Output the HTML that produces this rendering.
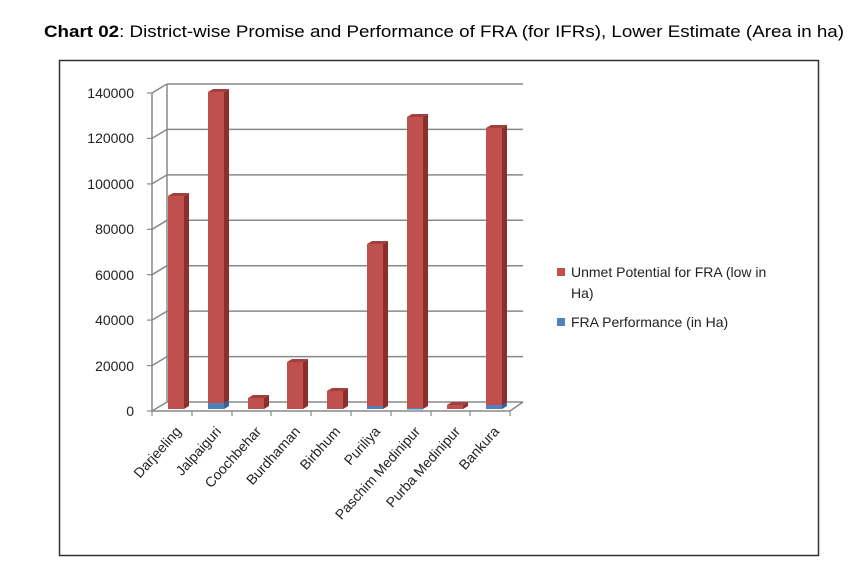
<!DOCTYPE html>
<html><head><style>
html,body{margin:0;padding:0;background:#fff;width:868px;height:575px;overflow:hidden}
svg text{font-family:"Liberation Sans",sans-serif}
</style></head><body>
<svg width="868" height="575" viewBox="0 0 868 575" xmlns="http://www.w3.org/2000/svg">
<text x="44" y="37" font-size="17" fill="#000" textLength="800" lengthAdjust="spacingAndGlyphs"><tspan font-weight="bold">Chart 02</tspan>: District-wise Promise and Performance of FRA (for IFRs), Lower Estimate (Area in ha)</text>
<rect x="59.5" y="60.5" width="759" height="495" fill="#fff" stroke="#333" stroke-width="1.5"/>
<g stroke="#888" stroke-width="1.5" fill="none">
<line x1="167" y1="84" x2="523" y2="84"/><line x1="167" y1="129.4" x2="523" y2="129.4"/>
<line x1="167" y1="174.9" x2="523" y2="174.9"/><line x1="167" y1="220.3" x2="523" y2="220.3"/>
<line x1="167" y1="265.7" x2="523" y2="265.7"/><line x1="167" y1="311.1" x2="523" y2="311.1"/>
<line x1="167" y1="356.6" x2="523" y2="356.6"/><line x1="167" y1="402" x2="523" y2="402"/>
<line x1="152" y1="93" x2="167" y2="84"/><line x1="152" y1="138.4" x2="167" y2="129.4"/>
<line x1="152" y1="183.9" x2="167" y2="174.9"/><line x1="152" y1="229.3" x2="167" y2="220.3"/>
<line x1="152" y1="274.7" x2="167" y2="265.7"/><line x1="152" y1="320.1" x2="167" y2="311.1"/>
<line x1="152" y1="365.6" x2="167" y2="356.6"/><line x1="152" y1="411" x2="167" y2="402"/>
<line x1="152" y1="93" x2="152" y2="411"/><line x1="167" y1="84" x2="167" y2="402"/>
<line x1="152" y1="411" x2="510" y2="411"/><line x1="510" y1="411" x2="523" y2="402"/>
</g>
<g stroke="#888" stroke-width="1.2">
<line x1="147" y1="93" x2="152" y2="93"/><line x1="147" y1="138.4" x2="152" y2="138.4"/>
<line x1="147" y1="183.9" x2="152" y2="183.9"/><line x1="147" y1="229.3" x2="152" y2="229.3"/>
<line x1="147" y1="274.7" x2="152" y2="274.7"/><line x1="147" y1="320.1" x2="152" y2="320.1"/>
<line x1="147" y1="365.6" x2="152" y2="365.6"/><line x1="147" y1="411" x2="152" y2="411"/>
<line x1="152" y1="411" x2="152" y2="416"/><line x1="192" y1="411" x2="192" y2="416"/>
<line x1="232" y1="411" x2="232" y2="416"/><line x1="271" y1="411" x2="271" y2="416"/>
<line x1="311" y1="411" x2="311" y2="416"/><line x1="351" y1="411" x2="351" y2="416"/>
<line x1="391" y1="411" x2="391" y2="416"/><line x1="431" y1="411" x2="431" y2="416"/>
<line x1="470" y1="411" x2="470" y2="416"/><line x1="510" y1="411" x2="510" y2="416"/>
</g>
<g font-size="14" fill="#222" text-anchor="end">
<text x="134" y="98">140000</text><text x="134" y="143">120000</text>
<text x="134" y="189">100000</text><text x="134" y="234">80000</text>
<text x="134" y="280">60000</text><text x="134" y="325">40000</text>
<text x="134" y="371">20000</text><text x="134" y="416">0</text>
</g>
<g>
<g><rect x="168" y="196" width="16" height="213" fill="#c0504d"/><polygon points="184,196 189,193 189,406 184,409" fill="#8b2e2c"/><polygon points="168,196 173,193 189,193 184,196" fill="#a33f3c"/></g>
<g><rect x="208" y="92" width="16" height="311" fill="#c0504d"/><rect x="208" y="403" width="16" height="6" fill="#4f81bd"/><polygon points="224,92 229,89 229,406 224,409" fill="#8b2e2c"/><polygon points="224,403 229,400 229,406 224,409" fill="#3a6496"/><polygon points="208,92 213,89 229,89 224,92" fill="#a33f3c"/></g>
<g><rect x="248" y="398" width="16" height="11" fill="#c0504d"/><polygon points="264,398 269,395 269,406 264,409" fill="#8b2e2c"/><polygon points="248,398 253,395 269,395 264,398" fill="#a33f3c"/></g>
<g><rect x="287" y="362" width="16" height="47" fill="#c0504d"/><polygon points="303,362 308,359 308,406 303,409" fill="#8b2e2c"/><polygon points="287,362 292,359 308,359 303,362" fill="#a33f3c"/></g>
<g><rect x="327" y="391" width="16" height="18" fill="#c0504d"/><polygon points="343,391 348,388 348,406 343,409" fill="#8b2e2c"/><polygon points="327,391 332,388 348,388 343,391" fill="#a33f3c"/></g>
<g><rect x="367" y="244" width="16" height="162" fill="#c0504d"/><rect x="367" y="406" width="16" height="3" fill="#4f81bd"/><polygon points="383,244 388,241 388,406 383,409" fill="#8b2e2c"/><polygon points="367,244 372,241 388,241 383,244" fill="#a33f3c"/></g>
<g><rect x="407" y="117" width="16" height="291" fill="#c0504d"/><rect x="407" y="408" width="16" height="1.5" fill="#4f81bd"/><polygon points="423,117 428,114 428,406 423,409" fill="#8b2e2c"/><polygon points="407,117 412,114 428,114 423,117" fill="#a33f3c"/></g>
<g><rect x="447" y="405" width="16" height="4" fill="#c0504d"/><polygon points="463,405 468,402 468,406 463,409" fill="#8b2e2c"/><polygon points="447,405 452,402 468,402 463,405" fill="#a33f3c"/></g>
<g><rect x="486" y="128" width="16" height="277" fill="#c0504d"/><rect x="486" y="405" width="16" height="4" fill="#4f81bd"/><polygon points="502,128 507,125 507,406 502,409" fill="#8b2e2c"/><polygon points="502,405 507,402 507,406 502,409" fill="#3a6496"/><polygon points="486,128 491,125 507,125 502,128" fill="#a33f3c"/></g>
</g>
<g font-size="14" fill="#222" text-anchor="end">
<text transform="translate(182,432) rotate(-48)">Darjeeling</text>
<text transform="translate(222,432) rotate(-48)">Jalpaiguri</text>
<text transform="translate(262,432) rotate(-48)">Coochbehar</text>
<text transform="translate(301,432) rotate(-48)">Burdhaman</text>
<text transform="translate(341,432) rotate(-48)">Birbhum</text>
<text transform="translate(381,432) rotate(-48)">Puriliya</text>
<text transform="translate(421,432) rotate(-48)">Paschim Medinipur</text>
<text transform="translate(461,432) rotate(-48)">Purba Medinipur</text>
<text transform="translate(500,432) rotate(-48)">Bankura</text>
</g>
<rect x="557" y="268" width="8" height="8" fill="#c0504d"/>
<text x="571" y="277" font-size="14" fill="#222">Unmet Potential for FRA (low in</text>
<text x="571" y="298" font-size="14" fill="#222">Ha)</text>
<rect x="557" y="318" width="8" height="8" fill="#4f81bd"/>
<text x="571" y="327" font-size="14" fill="#222">FRA Performance (in Ha)</text>
</svg>
</body></html>
